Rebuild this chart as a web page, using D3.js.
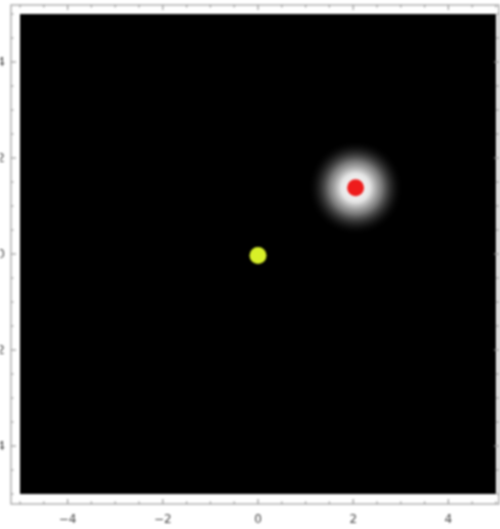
<!DOCTYPE html>
<html>
<head>
<meta charset="utf-8">
<script src="https://cdn.jsdelivr.net/npm/d3@7"></script>
<style>
  body { margin: 0; background: #fff; }
  svg { display: block; filter: blur(0.8px); }
</style>
</head>
<body>
<svg id="chart" width="500" height="529"></svg>
<script>
// values
const pointNames = ['origin', 'source']
const pointX = [0, 2.05]
const pointY = [-0.03, 1.38]
const pointColors = ['#d8f028', '#ee1c1c']
const glowX = [2.05]
const glowY = [1.38]
const glowRadius = [1.0]   // in data units
const majorTicks = [-4, -2, 0, 2, 4]
const minorTicks = d3.range(-5, 5.01, 0.5)

const width = 500, height = 529
const svg = d3.select('#chart')

const x = d3.scaleLinear().domain([-5, 5]).range([20, 496])
const y = d3.scaleLinear().domain([-5, 5]).range([494, 14])

// outer frame
const frame = { left: 11, right: 499, top: 5, bottom: 504 }

svg.append('rect')
  .attr('x', x(-5))
  .attr('y', y(5))
  .attr('width', x(5) - x(-5))
  .attr('height', y(-5) - y(5))
  .attr('fill', '#000')

// glow
const defs = svg.append('defs')
const grad = defs.append('radialGradient').attr('id', 'glow')
grad.append('stop').attr('offset', '0%').attr('stop-color', '#fff').attr('stop-opacity', 1)
grad.append('stop').attr('offset', '30%').attr('stop-color', '#f2f2f2').attr('stop-opacity', 0.95)
grad.append('stop').attr('offset', '55%').attr('stop-color', '#bbb').attr('stop-opacity', 0.65)
grad.append('stop').attr('offset', '80%').attr('stop-color', '#666').attr('stop-opacity', 0.25)
grad.append('stop').attr('offset', '100%').attr('stop-color', '#000').attr('stop-opacity', 0)

svg.append('g').selectAll('circle')
  .data(glowX)
  .enter()
  .append('circle')
  .attr('cx', d => x(d))
  .attr('cy', (d, i) => y(glowY[i]))
  .attr('r', (d, i) => x(glowRadius[i]) - x(0))
  .attr('fill', 'url(#glow)')

svg.append('g').selectAll('circle')
  .data(pointNames)
  .enter()
  .append('circle')
  .attr('cx', (d, i) => x(pointX[i]))
  .attr('cy', (d, i) => y(pointY[i]))
  .attr('r', 8.5)
  .attr('fill', (d, i) => pointColors[i])

// frame lines
const frameG = svg.append('g')
  .attr('stroke', '#999')
  .attr('stroke-width', 1.2)
  .attr('fill', 'none')
frameG.append('rect')
  .attr('x', frame.left)
  .attr('y', frame.top)
  .attr('width', frame.right - frame.left)
  .attr('height', frame.bottom - frame.top)

// ticks on all four sides, pointing inward
function ticks(vals, len) {
  frameG.append('g').selectAll('line').data(vals).enter().append('line')
    .attr('x1', d => x(d)).attr('x2', d => x(d))
    .attr('y1', frame.bottom).attr('y2', frame.bottom - len)
  frameG.append('g').selectAll('line').data(vals).enter().append('line')
    .attr('x1', d => x(d)).attr('x2', d => x(d))
    .attr('y1', frame.top).attr('y2', frame.top + len)
  frameG.append('g').selectAll('line').data(vals).enter().append('line')
    .attr('y1', d => y(d)).attr('y2', d => y(d))
    .attr('x1', frame.left).attr('x2', frame.left + len)
  frameG.append('g').selectAll('line').data(vals).enter().append('line')
    .attr('y1', d => y(d)).attr('y2', d => y(d))
    .attr('x1', frame.right).attr('x2', frame.right - len)
}
ticks(majorTicks, 5)
ticks(minorTicks.filter(d => !majorTicks.includes(d)), 2.5)

const fmt = d => d < 0 ? '\u2212' + Math.abs(d) : String(d)

svg.append('g').selectAll('text')
  .data(majorTicks)
  .enter()
  .append('text')
  .attr('x', d => x(d))
  .attr('y', 523)
  .attr('text-anchor', 'middle')
  .attr('font-family', 'DejaVu Sans, sans-serif')
  .attr('font-size', 12)
  .attr('fill', '#444')
  .text(fmt)

// left labels sit partly outside the picture, as in the reference
svg.append('g').selectAll('text')
  .data(majorTicks)
  .enter()
  .append('text')
  .attr('x', 5)
  .attr('y', d => y(d) + 4)
  .attr('text-anchor', 'end')
  .attr('font-family', 'DejaVu Sans, sans-serif')
  .attr('font-size', 12)
  .attr('fill', '#444')
  .text(fmt)
</script>
</body>
</html>
